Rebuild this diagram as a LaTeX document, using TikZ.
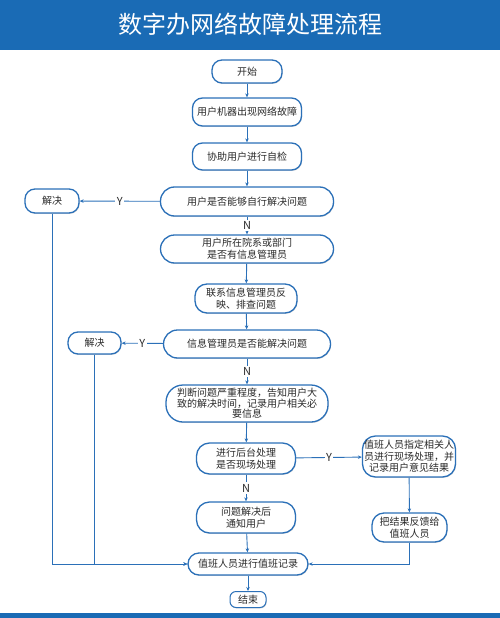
\documentclass[tikz,border=0pt]{standalone}
\usepackage{fontspec}
\setmainfont{Noto Sans CJK SC}
\usetikzlibrary{arrows.meta,shadows}
\definecolor{bandblue}{HTML}{1A6BB5}
\definecolor{lineblue}{HTML}{2B70B8}
\definecolor{txtgray}{HTML}{2A2A2A}

\begin{document}
\begin{tikzpicture}[x=1pt,y=-1pt,>={Stealth[length=4pt,width=3.5pt]},
	flow/.style={draw=lineblue, line width=1.3pt, fill=white, rounded corners=10pt,
		inner sep=0pt, align=center, text=txtgray,
		font=\fontsize{10}{12}\selectfont,
		drop shadow={shadow xshift=0.6pt,shadow yshift=-0.9pt,fill=black!35,opacity=.5}},
	lbl/.style={fill=white, inner sep=1.5pt, text=txtgray, font=\fontsize{11}{12}\selectfont},
	conn/.style={draw=lineblue, line width=0.9pt}]
								\useasboundingbox (0,0) rectangle (500,618);

								% bands
								\fill[bandblue] (0,0) rectangle (500,50);
								\fill[bandblue] (0,613) rectangle (500,618);
								\node[text=white, font=\fontsize{24}{28}\selectfont] (title) at (250,24) {数字办网络故障处理流程};

								\node[flow, minimum width=70, minimum height=23] (start) at (247,71.5) {开始};

								\node[flow, minimum width=109, minimum height=28] (fault) at (247,112) {用户机器出现网络故障};

								\node[flow, minimum width=109, minimum height=27] (check) at (247,156.5) {协助用户进行自检};

								\node[flow, minimum width=173, minimum height=29, rounded corners=14pt] (self) at (247,201.5) {用户是否能够自行解决问题};

								\node[flow, minimum width=54, minimum height=24] (solvea) at (52,201) {解决};

								\node[flow, minimum width=173, minimum height=28, rounded corners=14pt] (dept) at (247,249) {用户所在院系或部门\\是否有信息管理员};

								\node[flow, minimum width=102, minimum height=29, rounded corners=12pt] (contact) at (246,298.5) {联系信息管理员反\\映、排查问题};

								\node[flow, minimum width=167, minimum height=28, rounded corners=14pt] (admin) at (247,344) {信息管理员是否能解决问题};

								\node[flow, minimum width=53, minimum height=22] (solveb) at (94.5,343) {解决};

								\node[flow, minimum width=162, minimum height=37, rounded corners=17pt,
									font=\fontsize{10}{10.5}\selectfont] (judge) at (247,403.5) {判断问题严重程度，告知用户大\\致的解决时间，记录用户相关必\\要信息};

								\node[flow, minimum width=99, minimum height=31, rounded corners=13pt] (back) at (246,458.5) {进行后台处理\\是否现场处理};

								\node[flow, minimum width=93, minimum height=41, rounded corners=13pt,
									font=\fontsize{10}{11.5}\selectfont] (onsite) at (409,456.5) {值班人员指定相关人\\员进行现场处理，并\\记录用户意见结果};

								\node[flow, minimum width=75, minimum height=29, rounded corners=12pt] (feedback) at (409.5,527.5) {把结果反馈给\\值班人员};

								\node[flow, minimum width=99, minimum height=31, rounded corners=13pt] (notify) at (246,517.5) {问题解决后\\通知用户};

								\node[flow, minimum width=120, minimum height=22, rounded corners=11pt] (record) at (248,564) {值班人员进行值班记录};

								\node[flow, minimum width=36, minimum height=16, rounded corners=6pt, line width=1pt] (end) at (248,599.5) {结束};

								\draw[conn,->]  (start) to (fault);
								\draw[conn,->]  (fault) to (check);
								\draw[conn,->]  (check) to (self);
								\draw[conn,->]  (self) to node[lbl] {Y} (solvea);
								\draw[conn,->]  (self) to node[lbl] {N} (dept);
								\draw[conn,->]  (dept) to (contact);
								\draw[conn,->]  (contact) to (admin);
								\draw[conn,->]  (admin) to node[lbl] {Y} (solveb);
								\draw[conn,->]  (admin) to node[lbl] {N} (judge);
								\draw[conn,->]  (judge) to (back);
								\draw[conn,->]  (back) to node[lbl] {Y} (onsite);
								\draw[conn,->]  (back) to node[lbl] {N} (notify);
								\draw[conn,->]  (onsite) to (feedback);
								\draw[conn,->]  (notify) to (record);
								\draw[conn,->]  (solvea) |- (record);
								\draw[conn,->]  (solveb) |- (record);
								\draw[conn,->]  (feedback) |- (record);
								\draw[conn,->]  (record) to (end);

							\end{tikzpicture}
\end{document}
